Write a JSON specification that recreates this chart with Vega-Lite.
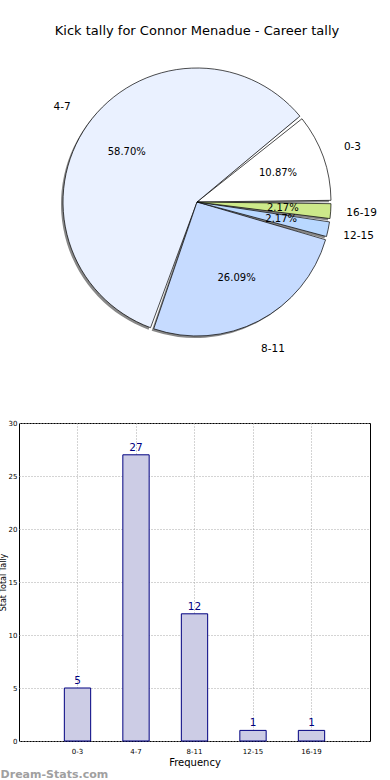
{
  "$schema": "https://vega.github.io/schema/vega-lite/v6.json",
  "padding": {"left": -2, "top": 25, "right": 0, "bottom": 0},
  "background": "white",
  "config": {"font": "DejaVu Sans", "view": {"stroke": null}},
  "datasets": {
    "kicks": [
      {"range": "0-3", "count": 5, "pct": "10.87%", "i": 0},
      {"range": "4-7", "count": 27, "pct": "58.70%", "i": 1},
      {"range": "8-11", "count": 12, "pct": "26.09%", "i": 2},
      {"range": "12-15", "count": 1, "pct": "2.17%", "i": 3},
      {"range": "16-19", "count": 1, "pct": "2.17%", "i": 4}
    ]
  },
  "title": {"text": "Dream-Stats.com", "orient": "bottom", "anchor": "start", "dx": 2, "fontSize": 11, "fontWeight": "bold", "color": "#a0a0a0", "offset": 1, "font": "DejaVu Sans"},
  "vconcat": [
    {
      "width": 356,
      "height": 300,
      "title": {"text": "Kick tally for Connor Menadue - Career tally", "fontSize": 13, "fontWeight": "normal", "color": "#000000", "offset": 14},
      "data": {"name": "kicks"},
      "encoding": {
        "theta": {"field": "count", "type": "quantitative", "stack": true, "scale": {"range": [1.5708, 7.854]}},
        "order": {"field": "i", "type": "quantitative", "sort": "descending"}
      },
      "layer": [
        {
          "mark": {"type": "arc", "radius": 134, "padAngle": 0.025, "fill": "#888888", "xOffset": -2, "yOffset": 2}
        },
        {
          "mark": {"type": "arc", "radius": 134, "padAngle": 0.025, "stroke": "#000000", "strokeWidth": 0.7},
          "encoding": {
            "color": {"field": "range", "type": "nominal", "legend": null,
              "scale": {"domain": ["0-3", "4-7", "8-11", "12-15", "16-19"], "range": ["#ffffff", "#eaf1ff", "#c6dbff", "#b9d8ff", "#cde98a"]}}
          }
        },
        {
          "mark": {"type": "text", "radius": 86, "fontSize": 10, "color": "#000000"},
          "encoding": {"text": {"field": "pct"}}
        },
        {
          "mark": {"type": "text", "radius": 165, "fontSize": 10.5, "color": "#000000"},
          "encoding": {"text": {"field": "range"}}
        }
      ]
    },
    {
      "width": 351,
      "height": 318,
      "data": {"name": "kicks"},
      "view": {"stroke": "#000000", "strokeWidth": 1},
      "encoding": {
        "x": {"field": "range", "type": "nominal", "sort": ["0-3", "4-7", "8-11", "12-15", "16-19"],
          "scale": {"paddingInner": 0, "paddingOuter": 0.5},
          "axis": {"title": "Frequency", "titleFontSize": 10, "titleFontWeight": "normal", "titleColor": "#000", "titlePadding": 3, "labelAngle": 0, "labelFontSize": 7, "labelColor": "#000", "labelPadding": 6, "ticks": false, "domain": false, "grid": true, "bandPosition": 0.5, "gridColor": "#a8a8a8", "gridDash": [1, 2], "gridWidth": 1}},
        "y": {"field": "count", "type": "quantitative",
          "scale": {"domain": [0, 30], "nice": false},
          "axis": {"title": "Stat Total Tally", "titleFontSize": 8, "titleFontWeight": "normal", "titleColor": "#000", "titlePadding": 1, "values": [0, 5, 10, 15, 20, 25, 30], "labelFontSize": 7, "labelColor": "#000", "labelPadding": 2, "ticks": false, "domain": false, "grid": true, "gridColor": "#a8a8a8", "gridDash": [1, 2], "gridWidth": 1}}
      },
      "layer": [
        {
          "mark": {"type": "bar", "width": {"band": 0.45}, "fill": "#ccccE5", "stroke": "#000080", "strokeWidth": 1}
        },
        {
          "mark": {"type": "text", "dy": -7, "fontSize": 10.5, "color": "#000080"},
          "encoding": {"text": {"field": "count", "type": "quantitative"}}
        }
      ]
    }
  ],
  "spacing": 63
}
